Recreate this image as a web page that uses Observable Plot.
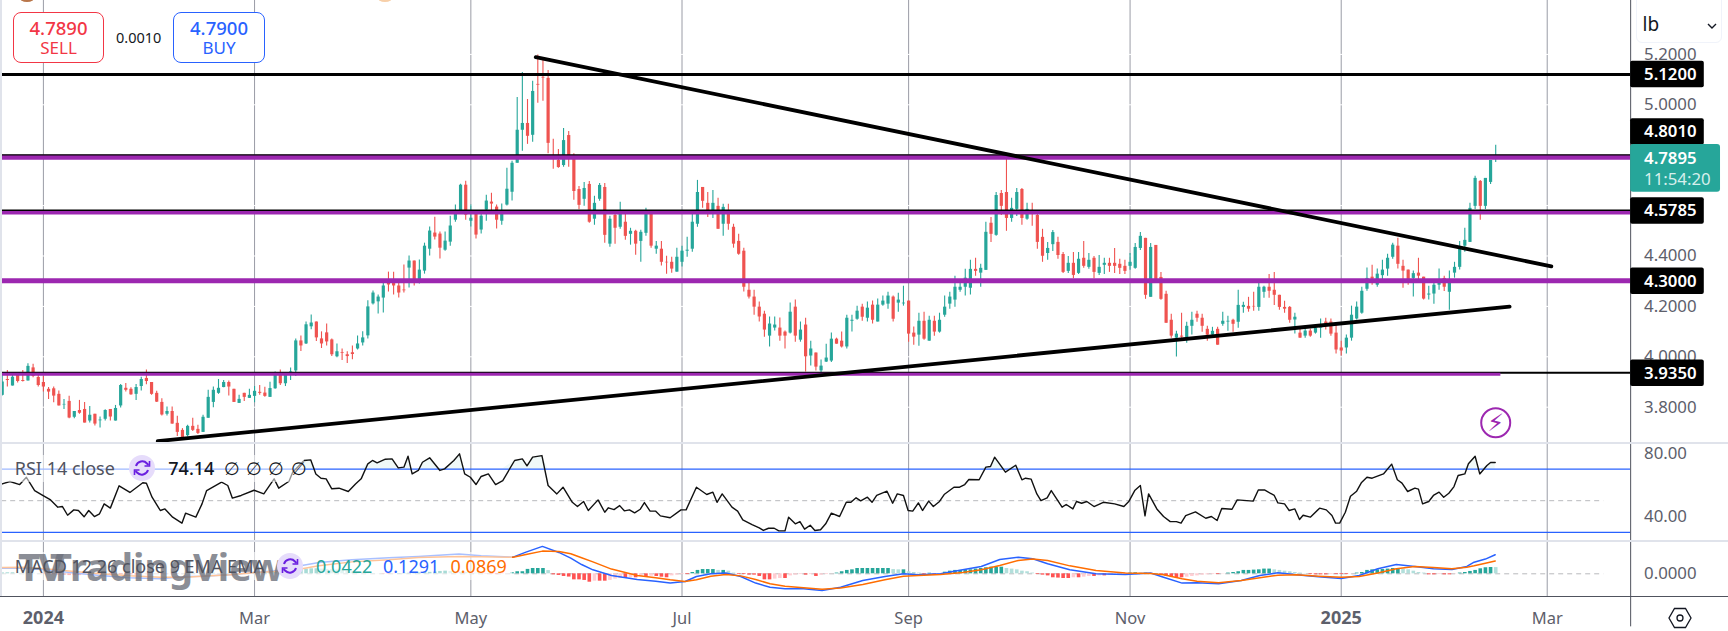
<!DOCTYPE html>
<html><head><meta charset="utf-8">
<script src="https://cdn.jsdelivr.net/npm/d3@7"></script>
<script src="https://cdn.jsdelivr.net/npm/@observablehq/plot@0.6"></script>
<style>
html,body{margin:0;padding:0;background:#fff;overflow:hidden}
#chart{position:relative;width:1728px;height:631px;overflow:hidden;font-family:"Noto Sans",sans-serif;color:#131722}
#chart>div.p{position:absolute;left:0}
.abs{position:absolute;white-space:nowrap;line-height:1}
.btn{position:absolute;box-sizing:border-box;border:1px solid;border-radius:8px;background:#fff;text-align:center}
.btn b{display:block;font-weight:500;font-size:18.5px;line-height:21px;margin-top:4px}
.btn span{display:block;font-size:17px;line-height:20px;margin-top:0}
.sep{position:absolute;left:0;width:1728px;background:#e0e3eb}
svg{display:block}
</style></head><body>
<div id="chart"></div>
<script>
const opens=[3.847,3.910,3.884,3.933,3.906,3.904,3.956,3.918,3.898,3.871,
3.873,3.851,3.809,3.823,3.760,3.787,3.791,3.745,3.772,3.746,
3.752,3.791,3.745,3.805,3.875,3.871,3.851,3.882,3.914,3.898,
3.855,3.819,3.772,3.783,3.736,3.708,3.687,3.724,3.712,3.700,
3.756,3.819,3.855,3.878,3.898,3.871,3.815,3.855,3.835,3.843,
3.859,
3.856,3.839,3.873,3.932,3.893,3.930,3.944,4.063,4.051,
4.119,4.138,4.071,4.095,4.067,4.000,4.016,4.008,4.016,4.031,
4.055,4.083,4.210,4.218,4.233,4.294,4.298,4.281,4.265,4.352,
4.380,4.305,4.340,4.427,4.491,4.487,4.423,4.455,4.542,4.575,
4.681,4.538,4.570,4.503,4.582,4.614,4.594,4.538,4.602,4.653,
4.768,4.899,4.926,4.879,5.081,5.109,5.105,4.798,
4.779,4.759,4.878,4.799,4.664,4.625,4.684,4.546,4.625,4.672,4.447,4.561,
4.514,4.534,4.486,4.498,4.458,4.490,4.565,4.427,4.427,4.375,
4.375,4.336,4.375,4.419,4.427,4.526,4.672,4.609,4.577,4.597,
4.526,4.569,4.514,4.458,4.419,4.264,4.237,4.197,4.169,4.082,
4.114,4.114,4.098,4.094,4.197,4.066,
4.126,4.003,4.015,3.944,3.979,3.983,4.070,4.062,4.039,4.141,4.149,4.197,4.153,4.205,
4.138,4.205,4.209,4.237,4.213,4.210,4.221,4.094,4.086,4.141,
4.062,4.141,4.098,4.165,4.209,4.225,4.264,4.276,4.272,4.347,
4.332,4.343,4.530,4.482,4.648,4.652,4.549,4.585,4.664,4.546,
4.568,4.561,4.474,
4.410,4.445,4.454,4.406,4.339,4.371,4.331,
4.391,4.355,4.391,4.331,4.363,4.371,4.371,4.367,4.359,4.359,
4.351,4.430,4.470,4.236,4.442,4.315,4.248,4.145,4.074,4.082,
4.076,4.121,4.169,4.153,4.109,4.086,4.109,4.129,4.138,4.145,
4.137,4.196,4.200,4.200,4.196,4.256,4.276,4.264,4.244,4.196,4.196,
4.146,4.094,4.082,4.102,4.094,4.114,4.138,4.138,4.094,
4.035,4.035,4.074,4.150,4.173,4.268,4.316,4.284,4.322,4.348,
4.395,4.439,4.359,4.344,4.311,4.332,4.316,4.245,4.249,4.284,
4.311,4.256,4.332,4.355,4.439,4.454,4.597,4.696,4.597,4.692,4.784];
const closes=[3.900,3.906,3.919,3.902,3.902,3.962,3.922,3.886,3.880,3.860,
3.844,3.805,3.811,3.757,3.783,3.776,3.737,3.768,3.733,3.749,
3.787,3.761,3.795,3.886,3.867,3.849,3.878,3.910,3.902,3.851,
3.820,3.769,3.783,3.733,3.700,3.679,3.724,3.708,3.696,3.760,
3.839,3.867,3.875,3.898,3.880,3.819,3.831,3.839,3.847,3.863,
3.855,
3.843,3.874,3.930,3.893,3.928,3.940,4.063,4.043,4.127,
4.134,4.075,4.051,4.059,4.008,4.020,4.013,4.001,4.009,4.051,
4.075,4.198,4.253,4.237,4.281,4.285,4.281,4.253,4.262,4.380,
4.305,4.344,4.439,4.499,4.475,4.431,4.459,4.519,4.570,4.681,
4.562,4.550,4.483,4.558,4.618,4.606,4.542,4.570,4.665,4.768,
4.899,4.926,4.875,5.053,5.078,5.106,4.847,4.790,
4.751,4.858,4.799,4.656,4.601,4.668,4.534,4.609,4.680,4.482,4.546,4.510,
4.565,4.478,4.498,4.447,4.494,4.565,4.439,4.439,4.375,4.373,
4.348,4.395,4.419,4.423,4.534,4.652,4.617,4.577,4.609,4.506,
4.593,4.526,4.447,4.407,4.276,4.237,4.197,4.158,4.106,4.130,
4.126,4.082,4.082,4.177,4.082,4.106,
4.000,4.031,3.959,3.963,3.995,4.070,4.050,4.039,4.153,4.145,4.181,4.157,4.193,4.145,
4.205,4.221,4.241,4.149,4.225,4.213,4.090,4.078,4.141,4.070,
4.145,4.098,4.145,4.197,4.237,4.276,4.276,4.312,4.347,4.339,
4.351,4.494,4.486,4.640,4.597,4.549,4.589,4.652,4.549,4.585,
4.565,4.454,4.399,
4.430,4.493,4.402,4.335,4.371,4.323,4.387,
4.359,4.383,4.335,4.355,4.371,4.359,4.359,4.351,4.339,4.375,
4.434,4.478,4.244,4.434,4.303,4.228,4.133,4.082,4.090,4.078,
4.121,4.145,4.153,4.121,4.086,4.101,4.046,4.141,4.141,4.129,
4.204,4.204,4.189,4.198,4.276,4.276,4.260,4.244,4.196,4.189,4.145,
4.157,4.074,4.102,4.082,4.114,4.126,4.130,4.090,4.027,
4.023,4.074,4.165,4.197,4.260,4.311,4.308,4.328,4.344,4.391,
4.443,4.367,4.340,4.304,4.330,4.320,4.229,4.249,4.284,4.292,
4.276,4.292,4.355,4.431,4.462,4.589,4.708,4.597,4.708,4.779,4.7895];
const highs=[3.933,3.946,3.935,3.935,3.946,3.972,3.970,3.933,3.922,3.878,
3.880,3.864,3.831,3.843,3.783,3.827,3.819,3.803,3.772,3.761,
3.790,3.791,3.807,3.890,3.894,3.877,3.890,3.919,3.948,3.898,
3.863,3.834,3.801,3.801,3.764,3.715,3.728,3.756,3.728,3.768,
3.867,3.880,3.910,3.906,3.904,3.871,3.847,3.855,3.871,3.882,
3.886,
3.879,3.899,3.940,3.948,3.932,3.956,4.071,4.083,4.138,
4.166,4.138,4.099,4.130,4.071,4.051,4.031,4.020,4.043,4.083,
4.099,4.222,4.261,4.245,4.293,4.336,4.336,4.294,4.364,4.400,
4.380,4.384,4.451,4.515,4.554,4.495,4.495,4.558,4.602,4.685,
4.697,4.602,4.570,4.570,4.641,4.649,4.602,4.606,4.748,4.776,
5.029,5.128,5.021,5.093,5.198,5.182,5.136,4.863,
4.823,4.906,4.894,4.806,4.676,4.692,4.696,4.637,4.688,4.688,4.558,4.565,
4.613,4.568,4.510,4.502,4.502,4.589,4.581,4.458,4.458,4.399,
4.395,4.431,4.439,4.474,4.565,4.700,4.672,4.652,4.660,4.629,
4.605,4.605,4.526,4.486,4.431,4.296,4.264,4.217,4.181,4.158,
4.158,4.154,4.102,4.213,4.225,4.138,
4.153,4.062,4.015,3.987,4.050,4.094,4.074,4.098,4.165,4.165,4.201,4.209,4.217,4.221,
4.229,4.241,4.256,4.241,4.252,4.280,4.221,4.118,4.173,4.177,
4.161,4.161,4.173,4.241,4.256,4.320,4.292,4.347,4.383,4.391,
4.367,4.534,4.553,4.652,4.660,4.783,4.629,4.668,4.668,4.609,
4.609,4.565,4.506,
4.454,4.501,4.474,4.414,4.398,4.414,4.414,
4.458,4.410,4.398,4.402,4.391,4.391,4.430,4.387,4.383,4.410,
4.450,4.493,4.470,4.450,4.442,4.335,4.260,4.169,4.101,4.173,
4.137,4.177,4.181,4.169,4.121,4.117,4.117,4.177,4.161,4.149,
4.264,4.216,4.236,4.256,4.292,4.280,4.327,4.335,4.244,4.220,4.200,
4.173,4.110,4.110,4.110,4.122,4.150,4.153,4.150,4.134,
4.062,4.086,4.201,4.217,4.276,4.352,4.363,4.348,4.383,4.407,
4.451,4.470,4.383,4.344,4.340,4.391,4.316,4.280,4.293,4.348,
4.320,4.340,4.375,4.458,4.510,4.609,4.716,4.700,4.708,4.779,4.839];
const lows=[3.844,3.880,3.884,3.896,3.900,3.904,3.917,3.880,3.860,3.831,
3.818,3.805,3.791,3.754,3.754,3.772,3.737,3.737,3.725,3.717,
3.745,3.745,3.745,3.797,3.860,3.847,3.827,3.864,3.889,3.847,
3.819,3.765,3.765,3.732,3.684,3.669,3.682,3.704,3.692,3.700,
3.756,3.798,3.851,3.877,3.844,3.819,3.815,3.823,3.835,3.818,
3.847,
3.839,3.839,3.871,3.886,3.882,3.906,3.922,4.021,4.049,
4.107,4.061,4.033,4.043,4.001,3.996,3.985,3.973,3.988,4.027,
4.043,4.071,4.206,4.170,4.174,4.257,4.245,4.233,4.253,4.273,
4.281,4.289,4.328,4.400,4.463,4.388,4.419,4.439,4.534,4.575,
4.542,4.515,4.467,4.487,4.538,4.578,4.507,4.522,4.598,4.618,
4.768,4.816,4.843,4.851,5.006,5.014,4.806,4.744,
4.748,4.752,4.752,4.621,4.584,4.597,4.530,4.522,4.617,4.451,4.435,4.447,
4.506,4.462,4.443,4.403,4.375,4.478,4.431,4.407,4.360,4.328,
4.332,4.336,4.356,4.395,4.415,4.514,4.589,4.553,4.549,4.506,
4.478,4.502,4.431,4.403,4.257,4.229,4.165,4.138,4.078,4.039,
4.102,4.062,4.031,4.090,4.058,4.058,
3.940,3.963,3.944,3.938,3.977,3.977,4.050,4.035,4.031,4.098,4.145,4.141,4.138,4.130,
4.138,4.201,4.189,4.138,4.177,4.201,4.058,4.046,4.042,4.066,
4.062,4.082,4.094,4.157,4.189,4.197,4.256,4.241,4.245,4.320,
4.276,4.343,4.454,4.478,4.561,4.498,4.534,4.557,4.522,4.542,
4.518,4.427,4.375,
4.383,4.418,4.387,4.331,4.331,4.310,4.327,
4.351,4.347,4.310,4.323,4.327,4.335,4.331,4.327,4.327,4.343,
4.347,4.422,4.228,4.236,4.303,4.224,4.133,4.074,3.999,4.074,
4.054,4.086,4.137,4.097,4.062,4.074,4.046,4.121,4.101,4.097,
4.113,4.173,4.177,4.181,4.181,4.232,4.232,4.204,4.185,4.173,4.133,
4.090,4.074,4.074,4.078,4.090,4.074,4.106,4.082,4.011,
4.003,4.011,4.062,4.146,4.169,4.260,4.284,4.276,4.304,4.320,
4.387,4.348,4.272,4.284,4.237,4.296,4.225,4.225,4.209,4.264,
4.259,4.185,4.312,4.344,4.415,4.454,4.585,4.542,4.585,4.684,4.771];

const rsiBar=[0,1.5,3.4,4.7,6.3,7.7,9.4,10.8,11.7,12.7,13.9,14.8,15.9,16.8,17.9,18.9,19.8,21,22.7,24.8,27.3,28,29.1,30.7,31.6,33.1,34.9,35.6,37.6,38.8,39.7,42.6,43.8,44.7,46.4,48.9,50.8,52.8,53.7,55.7,56.4,58.6,59.9,60.9,61.9,62.9,64,65.4,67.2,68.6,69.7,71,71.9,72.8,74.4,75.7,76.9,78,78.8,79.6,80.8,81.6,83,85,85.9,87.7,88.8,89.8,90.9,92,93,94.4,95.8,97.2,99.5,101,101.9,103,104.8,106,107.7,108.9,110.7,111.7,
112.9,113.8,115.7,117,117.7,118.8,119.9,120.8,121.8,122.8,123.9,124.7,125.8,126.9,127.8,129.7,131.8,132.8,134.8,136.8,138,138.8,139.8,141.7,142.8,143.8,145.6,147,147.8,148.8,149.9,150.8,152,152.7,154,154.9,155.8,156.9,157.8,158.9,159.9,161,162.6,163.9,164.8,165.8,166.7,168,168.9,169.8,171.8,172.9,173.8,175,175.9,176.8,177.9,178.7,179.9,180.8,182,182.9,184.8,185.9,186.9,187.7,189.7,191,191.9,192.7,194.8,196.8,198,198.7,199.8,200.9,201.7,202.9,203.7,205.8,206.6,207.9,208.6,209.6,210.6,212,213.8,216,217.8,218.8,219.9,221,221.9,
222.6,224.2,225.5,226.8,228,228.9,229.8,231.7,233.7,234.8,235.9,236.8,238.8,239.8,242.9,243.9,245.1,247,247.7,249,249.9,251,251.9,252.6,254,255.8,257.1,258.2,258.9,259.7,260.8,261.8,263,263.9,265,266,268.2,269.8,270.9,271.8,272.9,274.3,275,275.8,277,277.9,279,279.9,280.9,281.9,282.7,284,284.7,286,286.9,288.3,289,289.9];
const rsiValue=[60.6,62.1,60.2,64.8,56.4,53.7,50.5,45.9,46.3,40.8,44.2,43.8,39.8,43.8,40,41.7,48,45.3,59.4,55.2,61.3,61,52.2,43.8,44.8,39.6,35.8,42.1,39.6,48,56.4,61.7,59.6,51.6,53.3,56.6,54.3,63.8,57.9,62.3,68,75.4,75.8,66.9,64.2,63.8,57.5,57.9,55.8,60.6,63.8,73.3,75.4,73.9,76.2,76.4,70.7,71.2,78.1,66.9,69.1,74.3,77.1,69.1,70.1,75.4,79.6,66.9,64.8,60.2,65.3,66.9,60.2,62.7,75.4,76.4,72,77.5,78.5,59.6,54.3,58.5,49,46.3,
49.5,43.8,50.5,42.7,45.5,44.4,46.9,43.6,44.2,42.3,44.6,48.8,43.4,43.4,40.4,39.2,44.2,44.2,58.5,53.9,55.4,49,54.3,45.9,43.4,37.9,34.9,32.8,31.2,32.6,32.6,30.9,30.9,39.6,35.4,36.8,32,34.5,31.2,31.6,35.4,42.1,40,49,49,51.8,49.9,52.2,49,53.3,56,48.4,54.3,53.3,43.8,43.4,48.6,43.8,49.7,46.3,49.5,53.9,58.5,58.5,60.2,63.4,63.2,71.2,71.6,77.5,68,72.4,63.2,64.2,63.6,54.3,50.1,51.8,56.4,45.9,47.6,44.8,49.5,48.4,49.5,46.3,49,48,46.3,49.7,56.4,59.6,40.4,
54.3,44.8,40,36.8,36.8,35.8,40.6,42.9,38.9,40,37.5,45.1,44.6,50.5,49.7,56.8,56.8,53.3,48.6,48,43.8,44.8,38.1,40.8,39.6,45.3,44.2,40.6,35.8,35.8,42.7,52.8,56,61.3,64.8,64.2,66.9,73.1,63.2,61.1,55.8,57.9,57.3,48,49.5,53.3,55.4,52.2,54.7,58.9,65.9,66.9,73.3,78.1,66.9,72.2,74.1,74.14];

const macdBar=[0,4,8.3,14,19,24.8,30.6,35.6,38.8,44.2,49.2,54.3,57.1,61.5,67.9,75.1,80.8,88.7,93,99.2,101.7,104.9,108.1,
110.4,112.5,114.7,118.3,123.3,126.9,129.7,132.6,134.8,137.6,140.5,143.4,146.3,149.1,152,155.6,159.2,162.8,167.1,171.4,175,177.9,182.2,186.5,190.1,193.7,197.3,200.1,203,207.3,212.4,218.1,223,
225.5,229.1,232,236.2,240.6,244.2,247.7,251.3,255.6,260,263.5,267.1,270.7,274.3,277.9,281.5,284.4,285.8,288,289.9];
const macdLine=[.038,.038,.027,.005,-.011,-.027,-.034,-.018,-.016,-.007,.011,.023,.050,.077,.095,.109,.118,.134,.122,.113,.147,.186,.145,
.106,.063,.027,-.011,-.038,-.050,-.063,-.052,-.018,0,.005,-.018,-.063,-.091,-.102,-.102,-.113,-.091,-.045,-.018,0,-.007,0,.027,.050,.097,.113,.102,.068,.027,0,-.005,.005,
-.023,-.063,-.061,-.068,-.045,-.011,.007,-.007,-.020,-.032,-.011,.034,.063,.050,.034,.029,.050,.079,.100,.1291];
const signalLine=[.043,.045,.034,.016,0,-.014,-.023,-.023,-.016,-.007,.009,.018,.027,.054,.081,.095,.111,.118,.115,.113,.131,.154,.152,
.136,.109,.081,.032,-.011,-.027,-.041,-.052,-.041,-.016,-.005,-.014,-.038,-.068,-.084,-.095,-.104,-.097,-.072,-.041,-.016,-.011,-.005,.009,.027,.057,.091,.100,.091,.054,.023,.005,.002,
-.007,-.034,-.050,-.061,-.045,-.027,-.009,-.007,-.016,-.023,-.018,.005,.034,.050,.043,.034,.045,.054,.072,.0869];
const histogram=[.006,.007,.007,.005,.004,.004,.003,.002,
-.002,-.004,-.006,-.008,-.010,-.012,-.012,-.012,-.010,-.008,-.007,-.006,-.005,
-.005,-.005,-.006,-.007,-.007,-.008,-.007,-.006,-.005,-.004,-.004,-.003,-.002,-.002,-.001,
.000,.001,.001,.002,.002,.003,.002,.001,.001,.002,.002,.003,.002,.003,.004,
.006,.009,.012,.012,.014,.018,.026,.030,.032,.034,.034,.032,.030,.028,.026,.022,.018,.014,.010,.006,
.004,.002,.001,-.002,-.003,-.002,.002,.003,.004,.005,.006,.008,.010,.012,.016,.018,.016,.012,.010,.008,.006,.004,.002,-.002,-.004,-.006,-.004,-.002,
.007,.014,.014,.030,.036,.036,.036,.022,-.007,-.011,-.018,-.022,
-.041,-.041,-.045,-.057,-.050,-.050,-.050,-.045,-.036,-.032,
-.032,-.027,-.027,-.018,-.018,-.016,-.018,-.023,-.027,-.014,
-.009,-.005,-.005,.009,.023,.029,.029,.029,.023,.023,
.018,.005,-.005,-.005,-.009,-.009,-.018,-.041,-.041,-.036,
-.032,-.032,-.014,-.009,-.005,-.009,-.005,-.018,-.009,-.005,
-.001,.005,.014,.023,.027,.036,.036,.036,.036,.036,
.036,.036,.029,.027,.027,.014,.009,.005,-.005,.004,
-.007,-.001,.011,.018,.023,.023,.027,.027,.032,.036,
.041,.045,.045,.045,.036,.032,.027,.018,.014,.005,
-.005,-.009,-.014,-.027,-.029,-.032,-.032,-.027,-.027,-.023,
-.018,-.018,-.014,-.014,-.009,-.005,-.001,-.001,.005,.007,
.005,.005,
.002,.002,-.007,-.016,-.023,-.027,-.027,-.023,-.018,-.014,-.009,-.007,-.005,-.005,-.002,.005,.009,.014,.023,.023,.025,.027,.032,.032,.027,.023,.018,.014,.009,.005,.002,-.005,-.007,-.007,-.007,-.005,-.005,-.005,-.005,-.001,.005,.009,.023,.027,.027,.029,.032,.036,.036,.032,.027,.018,.009,.005,-.007,-.007,-.005,-.007,-.007,-.002,.005,.009,.016,.023,.034,.041,.043,.0422];

const gridBars=[8,49,91,132,176,219,260,300];
const timeLabels=["2024","Mar","May","Jul","Sep","Nov","2025","Mar"];
const priceTicks=[5.2,5.0,4.8,4.6,4.4,4.2,4.0,3.8];
const priceTickLabels=["5.2000","5.0000","","","4.4000","4.2000","4.0000","3.8000"];
const flagPrices=[5.12,4.892,4.5785,4.30,3.935];
const flagLabels=["5.1200","4.8010","4.5785","4.3000","3.9350"];
const rsiTicks=[80,40], rsiLevels=[70,30];
const downTrendBar=[103.6,300.8], downTrendPrice=[5.189,4.359];
const upTrendBar=[30.2,292.7], upTrendPrice=[3.665,4.199];

const GREEN="#26a69a",RED="#ef5350",PURPLE="#9c27b0",BLUE="#2962ff",ORANGE="#ff6d00",GRID="#9a9ca6",AXIS="#50535e",TXT="#5d606b";
const FONT='"Noto Sans",sans-serif';
const AX=316.2, TX=318.8, XMAX=335.2, FS=16.8;
const xs={type:"linear",domain:[0,XMAX],range:[1.7,1728]};
const base={width:1728,marginLeft:0,marginRight:0,marginTop:0,marginBottom:0,x:xs,style:{background:"transparent",overflow:"visible",fontFamily:FONT},axis:null};
const bars=d3.range(opens.length);
const root=document.getElementById("chart");
function place(svg,top){const d=document.createElement("div");d.className="p";d.style.top=top+"px";d.appendChild(svg);root.appendChild(d)}

// ---- price pane
const zip=(a,b)=>a.map((v,i)=>({x:v,y:b[i]}));
const price=Plot.plot({...base,height:442,
  y:{domain:[3.6599,5.4139],range:[442,0],axis:null},
  x:{...xs,axis:null},
  marks:[
    Plot.ruleX(gridBars,{stroke:GRID,strokeWidth:1}),
    Plot.ruleY(priceTicks,{x1:-1,x2:AX,stroke:"#fff",strokeWidth:1}),
    Plot.ruleX(bars,{x:d=>d,y1:d=>lows[d],y2:d=>highs[d],stroke:d=>closes[d]>=opens[d]?GREEN:RED,strokeWidth:1.1}),
    Plot.ruleX(bars,{x:d=>d,y1:d=>opens[d],y2:d=>closes[d],stroke:d=>closes[d]>=opens[d]?GREEN:RED,strokeWidth:3.2}),
    Plot.ruleY([4.792],{x1:-.1,x2:AX,stroke:PURPLE,strokeWidth:5}),
    Plot.ruleY([4.801],{x1:-.1,x2:AX,stroke:"#000",strokeWidth:1.3}),
    Plot.ruleY([4.5726],{x1:-.1,x2:AX,stroke:PURPLE,strokeWidth:4}),
    Plot.ruleY([4.5815],{x1:-.1,x2:AX,stroke:"#000",strokeWidth:1.3}),
    Plot.ruleY([4.302],{x1:-.1,x2:AX,stroke:PURPLE,strokeWidth:5}),
    Plot.ruleY([3.937],{x1:-.1,x2:AX,stroke:"#000",strokeWidth:2}),
    Plot.ruleY([3.931],{x1:-.1,x2:291.0,stroke:PURPLE,strokeWidth:3}),
    Plot.ruleY([5.12],{x1:-.1,x2:AX,stroke:"#000",strokeWidth:3}),
    Plot.line(zip(downTrendBar,downTrendPrice),{x:"x",y:"y",stroke:"#000",strokeWidth:3.8,strokeLinecap:"round"}),
    Plot.line(zip(upTrendBar,upTrendPrice),{x:"x",y:"y",stroke:"#000",strokeWidth:3.8,strokeLinecap:"round"}),
    Plot.ruleX([AX],{stroke:AXIS,strokeWidth:1}),
    Plot.text(priceTicks.filter((d,i)=>priceTickLabels[i]),{x:TX,y:d=>d,text:d=>priceTickLabels[priceTicks.indexOf(d)],textAnchor:"start",fill:TXT,fontSize:FS,fontFamily:FONT}),
    Plot.rect(flagPrices,{x1:AX,x2:330.5,y1:d=>d-.0524,y2:d=>d+.0524,fill:"#000",rx:2}),
    Plot.text(flagPrices,{x:TX,y:d=>d,text:(d,i)=>flagLabels[i],textAnchor:"start",fill:"#fff",fontSize:FS,fontWeight:600,fontFamily:FONT}),
    Plot.rect([4.7895],{x1:AX,x2:333.65,y1:4.6532,y2:4.8425,fill:GREEN,rx:3}),
    Plot.text([4.7895],{x:TX,y:4.788,text:d=>d.toFixed(4),textAnchor:"start",fill:"#fff",fontSize:FS,fontWeight:600,fontFamily:FONT}),
    Plot.text(["11:54:20"],{x:TX,y:4.7036,text:d=>d,textAnchor:"start",fill:"#d6efec",fontSize:FS,fontFamily:FONT}),
    Plot.dot([290],{x:d=>d,y:3.738,r:14.5,stroke:PURPLE,strokeWidth:2,fill:"#fff"}),
    Plot.text(["\u26A1"],{x:290,y:3.738,text:d=>d,fill:PURPLE,fontSize:24,fontFamily:"DejaVu Sans"})
  ]});
place(price,0);

// ---- RSI pane
const rsiPts=rsiBar.map((b,i)=>({x:b,v:rsiValue[i]}));
const rsi=Plot.plot({...base,height:97,
  y:{domain:[24.85,86.13],range:[97,0],axis:null},
  x:{...xs,axis:null},
  marks:[
    Plot.ruleX(gridBars,{stroke:GRID,strokeWidth:1}),
    Plot.ruleY(rsiLevels,{x1:-.1,x2:AX,stroke:BLUE,strokeWidth:1.2}),
    Plot.ruleY([50],{x1:-.1,x2:311,stroke:"#b8b9bd",strokeWidth:1,strokeDasharray:"5 4"}),
    Plot.areaY(rsiPts,{x:"x",y1:70,y2:d=>Math.max(d.v,70),fill:GREEN,fillOpacity:.07}),
    Plot.line(rsiPts,{x:"x",y:"v",stroke:"#111",strokeWidth:1.4}),
    Plot.ruleX([AX],{stroke:AXIS,strokeWidth:1}),
    Plot.text(rsiTicks,{x:TX,y:d=>d,text:d=>d.toFixed(2),textAnchor:"start",fill:TXT,fontSize:FS,fontFamily:FONT})
  ]});
place(rsi,443);

// ---- MACD pane + time axis
const macdPts=macdBar.map((b,i)=>({x:b,m:macdLine[i],s:signalLine[i]}));
const histColor=i=>{const v=histogram[i],p=i?histogram[i-1]:v;return v>=0?(v>=p?GREEN:"#b2dfdb"):(v<=p?"#ff5252":"#ffcdd2")};
const isYear=i=>/^\d/.test(timeLabels[i]);
const macd=Plot.plot({...base,height:90,
  y:{domain:[-.154,.2193],range:[55,0],axis:null},
  x:{...xs,axis:null},
  marks:[
    Plot.ruleX(gridBars,{y1:-.154,y2:.2193,stroke:GRID,strokeWidth:1}),
    Plot.ruleY([0],{x1:-.1,x2:311,stroke:"#b8b9bd",strokeWidth:1,strokeDasharray:"5 4"}),
    Plot.ruleX(bars,{x:d=>d,y1:0,y2:d=>histogram[d],stroke:d=>histColor(d),strokeWidth:3.6}),
    Plot.line(macdPts,{x:"x",y:"m",stroke:BLUE,strokeWidth:1.5}),
    Plot.line(macdPts,{x:"x",y:"s",stroke:ORANGE,strokeWidth:1.5}),
    Plot.ruleY([-.154],{x1:-1,x2:XMAX,stroke:AXIS,strokeWidth:1}),
    Plot.ruleX([AX],{y1:-.154,y2:.2193,stroke:AXIS,strokeWidth:1}),
    Plot.ruleX([AX],{y1:-.154,y2:-.36,stroke:AXIS,strokeWidth:1}),
    Plot.text([0],{x:TX,y:d=>d,text:()=>"0.0000",textAnchor:"start",fill:TXT,fontSize:FS,fontFamily:FONT}),
    Plot.text(gridBars.filter((d,i)=>!isYear(i)),{x:d=>d,y:-.3034,text:d=>timeLabels[gridBars.indexOf(d)],fill:TXT,fontSize:16.5,fontFamily:FONT}),
    Plot.text(gridBars.filter((d,i)=>isYear(i)),{x:d=>d,y:-.3034,text:d=>timeLabels[gridBars.indexOf(d)],fill:TXT,fontSize:18,fontWeight:700,fontFamily:FONT})
  ]});
place(macd,541);

// ---- chrome and legends (real text)
function sep(top,h){const e=document.createElement("div");e.className="sep";e.style.top=top+"px";e.style.height=h+"px";root.appendChild(e)}
sep(441.5,2);sep(540,1.5);
function abs(html,css){const e=document.createElement("div");e.className="abs";e.style.cssText=css;e.innerHTML=html;root.appendChild(e);return e}
abs("","left:0;top:0;width:1.5px;height:596px;background:#e0e3eb");
abs("","left:19px;top:-9px;width:16px;height:11px;border-radius:50%;background:#b9764a");
abs("","left:377px;top:-9px;width:16px;height:11px;border-radius:50%;background:#f7cfa8");
const sell=document.createElement("div");sell.className="btn";sell.style.cssText="left:13px;top:12px;width:91px;height:51px;border-color:#f23645;color:#f23645";sell.innerHTML="<b>4.7890</b><span>SELL</span>";root.appendChild(sell);
const buy=document.createElement("div");buy.className="btn";buy.style.cssText="left:173px;top:12px;width:92px;height:51px;border-color:#2962ff;color:#2962ff";buy.innerHTML="<b>4.7900</b><span>BUY</span>";root.appendChild(buy);
abs("0.0010","left:116px;top:29.5px;font-size:14.5px;color:#131722");
// unit selector
abs('<span style="position:absolute;left:6px;top:20px;font-size:19px;color:#131722">lb</span><svg style="position:absolute;left:70px;top:28px" width="10" height="7"><path d="M1 1l4 4 4-4" fill="none" stroke="#131722" stroke-width="1.4"/></svg>',"left:1635.5px;top:-6px;width:86px;height:49px;background:#fff;border:1px solid #f0f3fa;border-radius:6px;box-sizing:border-box");
const refresh=(x,y)=>`<svg style="position:absolute;left:${x-14}px;top:${y-14}px" width="28" height="28"><circle cx="14" cy="14" r="13" fill="#e6dcfb"/><path d="M8 12a6.5 6.5 0 0 1 11-2.5l1.5 1.5M20 16a6.5 6.5 0 0 1-11 2.5L7.500 17" fill="none" stroke="#6a1fe0" stroke-width="2"/><path d="M21.500 7v5h-5M6.500 21v-5h5" fill="none" stroke="#6a1fe0" stroke-width="1.600"/></svg>`;
// legend backdrops fade the lines below the legend text
abs("","left:1.5px;top:455px;width:302px;height:27px;background:rgba(255,255,255,.55)");
abs("","left:1.5px;top:552px;width:510px;height:28px;background:rgba(255,255,255,.6)");
// watermark
abs("TV","left:18px;top:547px;font-size:38px;font-weight:800;color:#6f727c;opacity:.8;letter-spacing:-2px");
abs("TradingView","left:50px;top:547px;font-size:38px;font-weight:700;color:#6f727c;opacity:.8");
// RSI legend
abs("RSI 14 close","left:14.800px;top:458.500px;font-size:18px;color:#50535e");
abs("","left:0;top:0").innerHTML=refresh(142.400,468);
abs("74.14","left:168.300px;top:458.500px;font-size:18px;font-weight:500;color:#131722");
["","","",""].forEach((_,i)=>abs("\u2205",`left:${224+i*22.2}px;top:458.500px;font-size:18px;color:#131722`));
// MACD legend
abs("MACD 12 26 close 9 EMA EMA","left:14.800px;top:556.500px;font-size:18px;color:#50535e");
abs("","left:0;top:0").innerHTML=refresh(289.600,565.700);
abs("0.0422",`left:316px;top:556.500px;font-size:18px;color:${GREEN}`);
abs("0.1291",`left:383px;top:556.500px;font-size:18px;color:${BLUE}`);
abs("0.0869",`left:450.500px;top:556.500px;font-size:18px;color:${ORANGE}`);
// settings hexagon
abs('<svg width="24" height="24"><path d="M6.500 2.500h11L23 12l-5.500 9.500h-11L1 12z" fill="none" stroke="#131722" stroke-width="1.300"/><circle cx="12" cy="12" r="3" fill="none" stroke="#131722" stroke-width="1.300"/></svg>',"left:1667.500px;top:606px");
</script>
</body></html>
